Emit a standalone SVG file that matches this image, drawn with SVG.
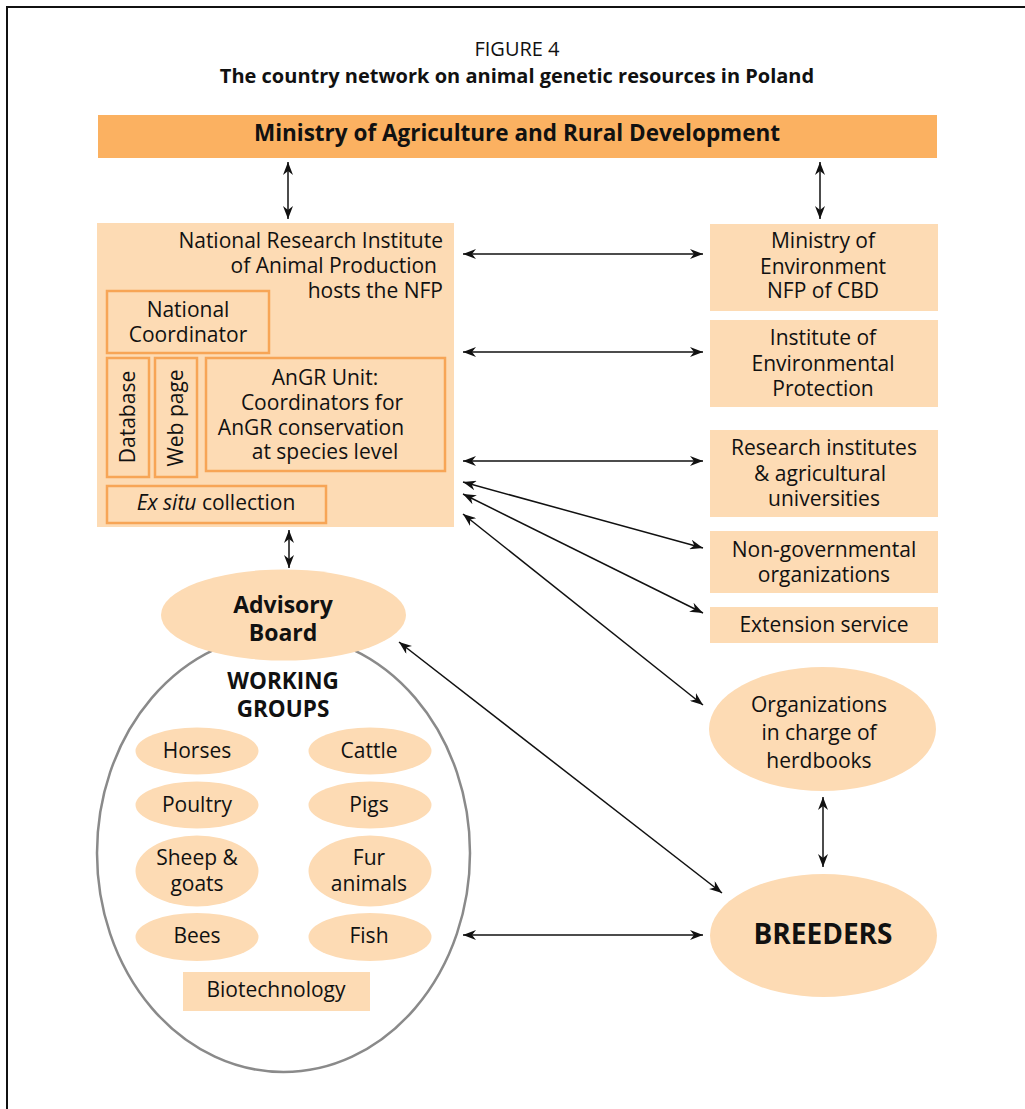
<svg xmlns="http://www.w3.org/2000/svg" width="1025" height="1109" viewBox="0 0 1025 1109">
<style>
text{font-family:"Open Sans","Noto Sans",sans-serif;fill:#111;}
.t{font-size:21px;}
.c{text-anchor:middle;}
.b{font-weight:bold;}
.lt{fill:#fddbb4;}
.inner{fill:none;stroke:#f7a556;stroke-width:2.5;}
.arr{stroke:#111;stroke-width:1.5;fill:none;marker-start:url(#ah);marker-end:url(#ah);}
</style>
<defs>
<marker id="ah" viewBox="0 0 13 10" refX="13" refY="5" markerWidth="13" markerHeight="10" markerUnits="userSpaceOnUse" orient="auto-start-reverse">
<path d="M0,0 L13,5 L0,10 L4,5 Z" fill="#111"/>
</marker>
</defs>
<rect width="1025" height="1109" fill="#fff"/>
<path d="M7,1112 V7 H1030" fill="none" stroke="#111" stroke-width="2"/>
<g id="title">
<text x="517" y="56" class="c" style="font-size:20px">FIGURE 4</text>
<text x="517" y="83" class="c b" style="font-size:20px">The country network on animal genetic resources in Poland</text>
</g>
<g id="ministry-agri">
<rect x="98" y="115" width="839" height="43" fill="#fbb161"/>
<text x="517" y="141" class="c b" style="font-size:22.5px">Ministry of Agriculture and Rural Development</text>
</g>
<g id="nrap">
<rect x="97" y="223" width="357" height="304" class="lt"/>
<text class="t" text-anchor="end"><tspan x="443" y="248">National Research Institute</tspan><tspan x="437" y="273">of Animal Production</tspan><tspan x="443" y="298">hosts the NFP</tspan></text>
</g>
<g id="national-coordinator">
<rect x="107" y="291" width="162" height="62" class="inner"/>
<text class="t c"><tspan x="188" y="317">National</tspan><tspan x="188" y="342">Coordinator</tspan></text>
</g>
<g id="database">
<rect x="107" y="358" width="42" height="119" class="inner"/>
<text class="t c" transform="translate(128,417) rotate(-90)" y="7">Database</text>
</g>
<g id="webpage">
<rect x="155" y="358" width="42" height="119" class="inner"/>
<text class="t c" transform="translate(176,418) rotate(-90)" y="7">Web page</text>
</g>
<g id="angr-unit">
<rect x="206" y="358" width="239" height="113" class="inner"/>
<text class="t c"><tspan x="325" y="385">AnGR Unit:</tspan><tspan x="322" y="410">Coordinators for</tspan><tspan x="311" y="435">AnGR conservation</tspan><tspan x="325" y="459">at species level</tspan></text>
</g>
<g id="exsitu">
<rect x="107" y="486" width="219" height="37" class="inner"/>
<text class="t c" x="216" y="510"><tspan font-style="italic">Ex situ</tspan> collection</text>
</g>
<g id="ministry-env">
<rect x="710" y="224" width="228" height="87" class="lt"/>
<text class="t c"><tspan x="823" y="248">Ministry of</tspan><tspan x="823" y="274">Environment</tspan><tspan x="823" y="298">NFP of CBD</tspan></text>
</g>
<g id="inst-env">
<rect x="710" y="320" width="228" height="87" class="lt"/>
<text class="t c"><tspan x="823" y="345">Institute of</tspan><tspan x="823" y="371">Environmental</tspan><tspan x="823" y="396">Protection</tspan></text>
</g>
<g id="research">
<rect x="710" y="430" width="228" height="87" class="lt"/>
<text class="t c"><tspan x="824" y="455">Research institutes</tspan><tspan x="820" y="481">&amp; agricultural</tspan><tspan x="824" y="506">universities</tspan></text>
</g>
<g id="ngo">
<rect x="710" y="531" width="228" height="62" class="lt"/>
<text class="t c"><tspan x="824" y="557">Non-governmental</tspan><tspan x="824" y="582">organizations</tspan></text>
</g>
<g id="extension">
<rect x="710" y="607" width="228" height="36" class="lt"/>
<text class="t c" x="824" y="632">Extension service</text>
</g>
<g id="herdbooks">
<ellipse cx="822.5" cy="729" rx="113.5" ry="62" class="lt"/>
<text class="t c"><tspan x="819" y="712">Organizations</tspan><tspan x="819" y="740">in charge of</tspan><tspan x="819" y="768">herdbooks</tspan></text>
</g>
<g id="breeders">
<ellipse cx="823.5" cy="935.5" rx="113.5" ry="61.5" class="lt"/>
<text class="c b" x="823" y="944" style="font-size:28px">BREEDERS</text>
</g>
<g id="working-groups">
<ellipse cx="283.5" cy="853" rx="186.5" ry="219" fill="#fff" stroke="#8a8a8a" stroke-width="2.5"/>
<text class="c b" style="font-size:22.5px"><tspan x="283" y="689">WORKING</tspan><tspan x="283" y="717">GROUPS</tspan></text>
</g>
<g id="advisory-board">
<ellipse cx="283.5" cy="615" rx="122.5" ry="45.5" class="lt"/>
<text class="c b" style="font-size:23px"><tspan x="283" y="613">Advisory</tspan><tspan x="283" y="641">Board</tspan></text>
</g>
<g id="wg-horses"><ellipse cx="197" cy="751" rx="61.5" ry="23.5" class="lt"/><text class="t c" x="197" y="758">Horses</text></g>
<g id="wg-cattle"><ellipse cx="370" cy="751" rx="61.5" ry="23.5" class="lt"/><text class="t c" x="369" y="758">Cattle</text></g>
<g id="wg-poultry"><ellipse cx="197" cy="805" rx="61.5" ry="23.5" class="lt"/><text class="t c" x="197" y="812">Poultry</text></g>
<g id="wg-pigs"><ellipse cx="370" cy="805" rx="61.5" ry="23.5" class="lt"/><text class="t c" x="369" y="812">Pigs</text></g>
<g id="wg-sheep"><ellipse cx="197" cy="871" rx="61.5" ry="35.5" class="lt"/><text class="t c"><tspan x="197" y="865">Sheep &amp;</tspan><tspan x="197" y="891">goats</tspan></text></g>
<g id="wg-fur"><ellipse cx="370" cy="871" rx="61.5" ry="35.5" class="lt"/><text class="t c"><tspan x="369" y="865">Fur</tspan><tspan x="369" y="891">animals</tspan></text></g>
<g id="wg-bees"><ellipse cx="197" cy="937" rx="61.5" ry="24" class="lt"/><text class="t c" x="197" y="943">Bees</text></g>
<g id="wg-fish"><ellipse cx="370" cy="937" rx="61.5" ry="24" class="lt"/><text class="t c" x="369" y="943">Fish</text></g>
<g id="wg-biotech"><rect x="183" y="972" width="187" height="39" class="lt"/><text class="t c" x="276" y="997">Biotechnology</text></g>
<g id="connectors">
<line class="arr" x1="288" y1="162" x2="288" y2="219"/>
<line class="arr" x1="820" y1="162" x2="820" y2="219"/>
<line class="arr" x1="463" y1="254" x2="703" y2="254"/>
<line class="arr" x1="463" y1="352" x2="703" y2="352"/>
<line class="arr" x1="463" y1="461" x2="703" y2="461"/>
<line class="arr" x1="463" y1="482" x2="703" y2="548"/>
<line class="arr" x1="463" y1="494" x2="703" y2="613"/>
<line class="arr" x1="463" y1="514" x2="703" y2="705"/>
<line class="arr" x1="289" y1="530" x2="289" y2="568"/>
<line class="arr" x1="399" y1="642" x2="722" y2="893"/>
<line class="arr" x1="463" y1="935" x2="703" y2="935"/>
<line class="arr" x1="823" y1="797" x2="823" y2="867"/>
</g>
</svg>
